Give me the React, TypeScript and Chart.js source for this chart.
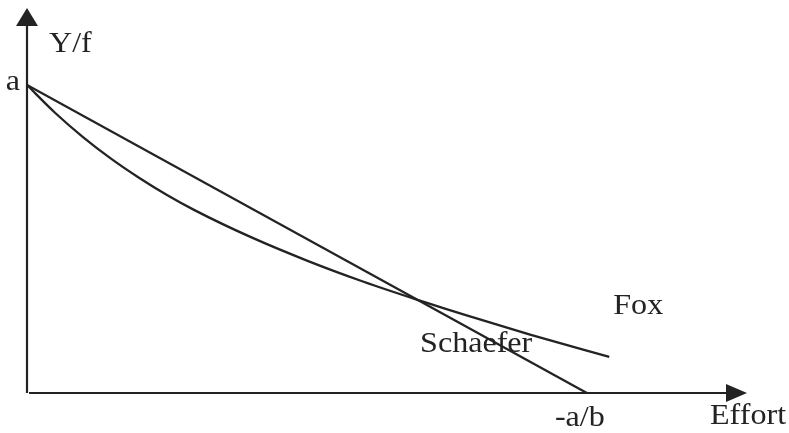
import { useEffect, useRef } from "react";
import { Chart, registerables } from "chart.js";

Chart.register(...registerables);

// Catch per unit effort (Y/f) against fishing effort, relative units: a = 1, -a/b = 100
const schaeferEffort = [0, 100];
const schaeferCpue = [1, 0];

const foxEffort = [0, 5, 10, 15, 20, 25, 30, 40, 50, 60, 70, 80, 90, 104];
const foxCpue = [1.0, 0.91, 0.831, 0.761, 0.699, 0.643, 0.593, 0.506, 0.43, 0.362, 0.301, 0.244, 0.189, 0.117];

const seriesNames = ["Schaefer", "Fox"];
const yAxisTitle = "Y/f";
const xAxisTitle = "Effort";
const interceptLabel = "a";
const rootLabel = "-a/b";

const effortMax = 128.6;
const cpueMax = 1.25;

const ink = "#232323";
const font = "30px 'Liberation Serif', 'Times New Roman', serif";

const toPoints = (xs: number[], ys: number[]) => xs.map((x, i) => ({ x, y: ys[i] }));

// serif labels are set a touch wide
function wideText(ctx: CanvasRenderingContext2D, text: string, x: number, y: number, align: CanvasTextAlign) {
  const stretch = 1.07;
  const w = ctx.measureText(text).width * stretch;
  let left = x;
  if (align === "center") left = x - w / 2;
  else if (align === "right") left = x - w;
  ctx.save();
  ctx.translate(left, y);
  ctx.scale(stretch, 1);
  ctx.textAlign = "left";
  ctx.fillText(text, 0, 0);
  ctx.restore();
}

const sketchAxes = {
  id: "sketchAxes",
  beforeDatasetsDraw(chart: any) {
    const { ctx, chartArea, scales } = chart;
    const x0 = scales.x.getPixelForValue(0);
    const y0 = scales.y.getPixelForValue(0);
    ctx.save();
    ctx.strokeStyle = ink;
    ctx.fillStyle = ink;
    ctx.lineWidth = 2.2;
    // vertical axis with arrow head
    ctx.beginPath();
    ctx.moveTo(x0, y0);
    ctx.lineTo(x0, chartArea.top + 14);
    ctx.stroke();
    ctx.beginPath();
    ctx.moveTo(x0, chartArea.top);
    ctx.lineTo(x0 - 11, chartArea.top + 18);
    ctx.lineTo(x0 + 11, chartArea.top + 18);
    ctx.closePath();
    ctx.fill();
    // horizontal axis with arrow head
    ctx.beginPath();
    ctx.moveTo(x0 + 2, y0);
    ctx.lineTo(chartArea.right - 14, y0);
    ctx.stroke();
    ctx.beginPath();
    ctx.moveTo(chartArea.right, y0);
    ctx.lineTo(chartArea.right - 21, y0 - 9);
    ctx.lineTo(chartArea.right - 21, y0 + 9);
    ctx.closePath();
    ctx.fill();
    ctx.restore();
  },
  afterDatasetsDraw(chart: any) {
    const { ctx, chartArea, scales } = chart;
    const xs = scales.x;
    const ys = scales.y;
    const x0 = xs.getPixelForValue(0);
    const y0 = ys.getPixelForValue(0);
    ctx.save();
    ctx.fillStyle = ink;
    ctx.font = font;
    ctx.textBaseline = "alphabetic";

    wideText(ctx, yAxisTitle, x0 + 22, chartArea.top + 44, "left");
    wideText(ctx, interceptLabel, x0 - 7, ys.getPixelForValue(schaeferCpue[0]) + 5, "right");
    wideText(ctx, rootLabel, xs.getPixelForValue(schaeferEffort[1]) - 7, y0 + 33, "center");
    wideText(ctx, xAxisTitle, chartArea.right - 37, y0 + 31, "left");

    const foxEndX = xs.getPixelForValue(foxEffort[foxEffort.length - 1]);
    const foxEndY = ys.getPixelForValue(foxCpue[foxCpue.length - 1]);
    wideText(ctx, seriesNames[1], foxEndX + 4, foxEndY - 43, "left");
    wideText(ctx, seriesNames[0], xs.getPixelForValue(70.2), ys.getPixelForValue(0.133), "left");
    ctx.restore();
  },
};

export default function App() {
  const canvasRef = useRef<HTMLCanvasElement | null>(null);

  useEffect(() => {
    if (!canvasRef.current) return;
    const chart = new Chart(canvasRef.current, {
      type: "line",
      data: {
        datasets: [
          {
            label: seriesNames[0],
            data: toPoints(schaeferEffort, schaeferCpue),
            borderColor: ink,
            borderWidth: 2.3,
            pointRadius: 0,
            fill: false,
            tension: 0,
          },
          {
            label: seriesNames[1],
            data: toPoints(foxEffort, foxCpue),
            borderColor: ink,
            borderWidth: 2.3,
            pointRadius: 0,
            fill: false,
            cubicInterpolationMode: "monotone",
          },
        ],
      },
      options: {
        responsive: false,
        animation: false,
        events: [],
        layout: { padding: { left: 27, right: 42, top: 8, bottom: 40 } },
        plugins: {
          legend: { display: false },
          tooltip: { enabled: false },
        },
        scales: {
          x: { type: "linear", min: 0, max: effortMax, display: false },
          y: { type: "linear", min: 0, max: cpueMax, display: false },
        },
      },
      plugins: [sketchAxes],
    });
    return () => chart.destroy();
  }, []);

  return (
    <div style={{ position: "fixed", left: 0, top: 0, width: 789, height: 433, background: "#ffffff" }}>
      <canvas ref={canvasRef} width={789} height={433} />
    </div>
  );
}
